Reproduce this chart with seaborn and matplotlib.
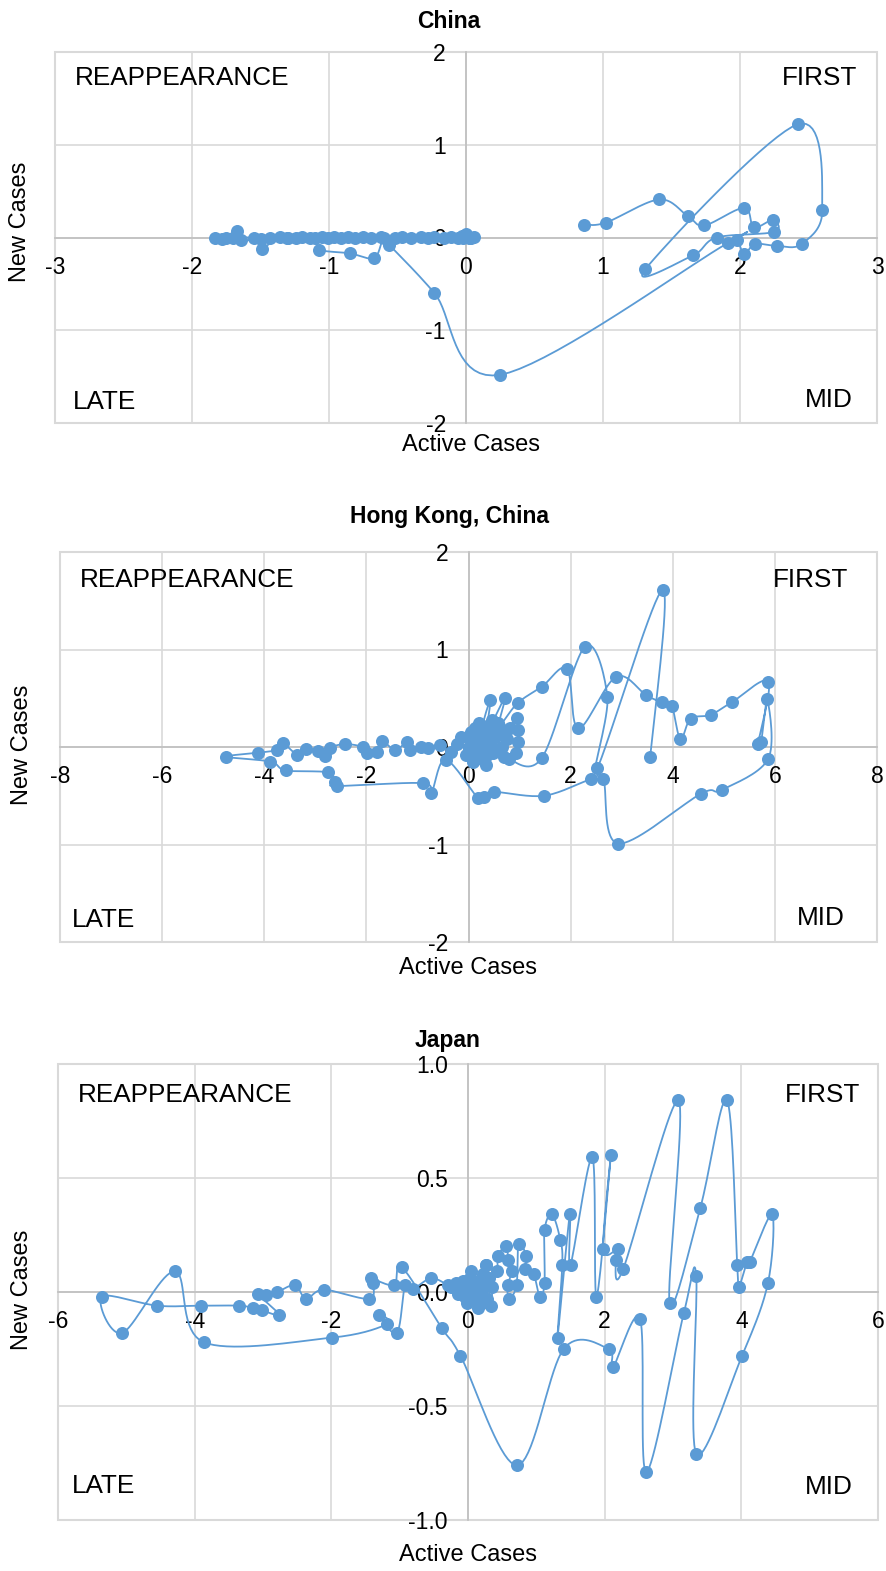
import numpy as np
import matplotlib
matplotlib.use("Agg")
import matplotlib.pyplot as plt
import seaborn as sns
from matplotlib.ticker import FormatStrFormatter
from matplotlib.patches import Rectangle

# ---------------- data (trajectory order) ----------------
china_pts = [
    (0.86, 0.14), (1.02, 0.16), (1.41, 0.41), (1.62, 0.23), (1.74, 0.13), (2.03, 0.32),
    (2.10, 0.11), (2.24, 0.19), (2.25, 0.06), (1.83, 0.00), (1.66, -0.19), (1.31, -0.34),
    (2.42, 1.22), (2.60, 0.30), (2.45, -0.07), (2.27, -0.09), (2.11, -0.07), (2.03, -0.18),
    (1.98, -0.03), (1.91, -0.06), (0.25, -1.48), (-0.23, -0.60), (-0.56, -0.08), (-0.62, 0.01),
    (-0.69, 0.00), (-0.75, 0.01), (-0.81, 0.00), (-0.86, 0.01), (-0.91, 0.00), (-0.96, 0.01),
    (-1.01, 0.00), (-1.05, 0.01), (-1.14, 0.00), (-1.20, 0.01), (-1.24, 0.00), (-1.31, 0.00),
    (-1.36, 0.01), (-1.49, -0.12), (-1.50, -0.02), (-1.64, -0.03), (-1.67, 0.07), (-1.75, 0.00),
    (-1.78, -0.02), (-1.83, -0.01), (-1.70, 0.00), (-1.55, 0.00), (-1.43, 0.00), (-1.30, 0.00),
    (-1.10, 0.00), (-1.07, -0.13), (-0.85, -0.17), (-0.67, -0.22), (-0.60, 0.00), (-0.52, 0.00),
    (-0.47, 0.01), (-0.40, 0.00), (-0.33, 0.01), (-0.28, 0.00), (-0.23, 0.01), (-0.16, 0.00),
    (-0.11, 0.01), (-0.06, 0.00), (-0.03, 0.02), (0.00, 0.04), (0.02, 0.00), (0.06, 0.01),
    (0.04, -0.01), (-0.02, 0.00), (0.01, 0.01),
]

hk_pts = [
    (0.00, 0.00), (0.05, 0.06), (0.10, -0.03), (0.02, 0.12), (0.15, 0.08), (0.20, 0.15),
    (0.12, 0.20), (0.25, 0.05), (0.30, -0.04), (0.22, -0.10), (0.35, 0.12), (0.28, 0.22),
    (0.43, 0.48), (0.38, 0.18), (0.71, 0.50), (0.60, 0.22), (0.96, 0.45), (1.44, 0.62),
    (1.93, 0.80), (2.15, 0.19), (2.89, 0.72), (3.48, 0.53), (3.78, 0.46), (3.98, 0.42),
    (4.15, 0.08), (4.35, 0.29), (4.74, 0.33), (5.16, 0.46), (5.87, 0.67), (5.67, 0.03),
    (5.73, 0.05), (5.85, 0.49), (5.87, -0.12), (4.96, -0.44), (4.55, -0.48), (2.93, -0.99),
    (2.64, -0.33), (2.40, -0.33), (1.48, -0.50), (0.49, -0.46), (0.30, -0.51), (0.18, -0.52),
    (-0.45, -0.13), (-0.73, -0.47), (-0.90, -0.37), (-2.58, -0.40), (-2.62, -0.36), (-2.76, -0.26),
    (-3.58, -0.24), (-3.88, -0.15), (-4.74, -0.10), (-4.13, -0.06), (-3.76, -0.03), (-3.64, 0.04),
    (-3.35, -0.08), (-3.19, -0.02), (-2.95, -0.04), (-2.81, -0.09), (-2.72, -0.01), (-2.42, 0.03),
    (-2.07, 0.00), (-1.99, -0.06), (-1.79, -0.05), (-1.69, 0.06), (-1.44, -0.03), (-1.20, 0.05),
    (-1.14, -0.03), (-0.94, 0.00), (-0.79, -0.01), (-0.55, 0.02), (-0.35, -0.05), (-0.22, 0.03),
    (-0.15, 0.10), (-0.05, -0.08), (0.05, 0.15), (0.08, -0.15), (0.14, 0.02), (0.18, -0.05),
    (0.24, 0.12), (0.27, -0.12), (0.32, 0.05), (0.36, -0.08), (0.40, 0.18), (0.44, 0.02),
    (0.48, -0.06), (0.52, 0.10), (0.56, -0.03), (0.62, 0.14), (0.66, 0.00), (0.70, -0.10),
    (0.58, 0.25), (0.46, 0.28), (0.34, -0.18), (0.20, 0.25), (0.75, 0.08), (0.82, 0.20),
    (0.95, 0.30), (0.97, 0.17), (0.96, 0.05), (0.93, -0.06), (0.79, -0.12), (1.44, -0.11),
    (2.28, 1.03), (2.72, 0.51), (2.52, -0.22), (3.80, 1.61), (3.56, -0.10),
]

japan_pts = [
    (-0.25, 0.02), (-0.18, 0.04), (-0.12, 0.01), (-0.08, 0.05), (-0.05, -0.02), (0.00, 0.02),
    (0.03, 0.06), (0.06, -0.01), (0.09, 0.03), (0.12, -0.04), (0.14, 0.05), (0.17, 0.01),
    (0.20, -0.05), (0.22, 0.08), (0.26, 0.12), (0.42, 0.09), (0.44, 0.16), (0.56, 0.20),
    (0.59, 0.14), (0.64, 0.09), (0.58, 0.03), (0.60, -0.03), (0.71, 0.03), (0.74, 0.21),
    (0.85, 0.16), (0.84, 0.10), (0.96, 0.08), (1.05, -0.02), (1.12, 0.04), (1.12, 0.27),
    (1.23, 0.34), (1.35, 0.23), (1.38, 0.12), (1.31, -0.20), (1.49, 0.34), (1.50, 0.12),
    (1.82, 0.59), (1.88, -0.02), (2.09, 0.60), (1.98, 0.19), (2.20, 0.19), (2.16, 0.14),
    (2.27, 0.10), (3.08, 0.84), (2.95, -0.05), (3.40, 0.37), (3.79, 0.84), (3.94, 0.12),
    (3.96, 0.02), (4.08, 0.13), (4.12, 0.13), (4.45, 0.34), (4.39, 0.04), (4.01, -0.28),
    (3.34, -0.71), (3.34, 0.07), (3.16, -0.09), (2.61, -0.79), (2.52, -0.12), (2.12, -0.33),
    (2.06, -0.25), (1.40, -0.25), (0.72, -0.76), (-0.11, -0.28), (-0.38, -0.16), (-0.97, 0.11),
    (-1.08, 0.03), (-1.42, 0.06), (-1.39, 0.04), (-1.45, -0.03), (-2.11, 0.01), (-2.37, -0.03),
    (-2.53, 0.03), (-2.79, 0.00), (-2.95, -0.015), (-3.07, -0.01), (-2.76, -0.10), (-3.02, -0.08),
    (-3.15, -0.07), (-3.35, -0.06), (-3.91, -0.06), (-4.55, -0.06), (-5.36, -0.02), (-5.06, -0.18),
    (-4.29, 0.09), (-3.87, -0.22), (-1.99, -0.20), (-1.18, -0.14), (-1.30, -0.10), (-1.04, -0.18),
    (-0.92, 0.03), (-0.80, 0.015), (-0.54, 0.06), (-0.30, 0.03), (-0.15, -0.01), (-0.02, -0.05),
    (0.05, 0.09), (0.10, 0.00), (0.15, -0.07), (0.24, 0.03), (0.28, -0.03), (0.30, 0.06),
    (0.33, -0.06), (0.35, 0.02), (0.27, 0.12),
]

titles = ["China", "Hong Kong, China", "Japan"]
china_xticks = [-3, -2, -1, 0, 1, 2, 3]
china_yticks = [-2, -1, 0, 1, 2]
hk_xticks = [-8, -6, -4, -2, 0, 2, 4, 6, 8]
hk_yticks = [-2, -1, 0, 1, 2]
japan_xticks = [-6, -4, -2, 0, 2, 4, 6]
japan_yticks = [-1.0, -0.5, 0.0, 0.5, 1.0]
quadrants = ["REAPPEARANCE", "FIRST", "LATE", "MID"]

# ---------------- style ----------------
W_PX, H_PX = 886, 1571
sns.set_style("white")
plt.rcParams["font.family"] = ["Liberation Sans", "DejaVu Sans"]
plt.rcParams["axes.unicode_minus"] = False
plt.rcParams["text.color"] = "black"
plt.rcParams["xtick.color"] = "black"
plt.rcParams["ytick.color"] = "black"

BLUE = "#5B9BD5"
GRID = "#D9D9D9"
AXIS = "#BFBFBF"

fig = plt.figure(figsize=(W_PX / 100, H_PX / 100), dpi=100)


def fx(px):
    return px / W_PX


def fy(py):
    return 1 - py / H_PX


def smooth(xs, ys, xr, yr, w, h, n=18):
    sx = w / (xr[1] - xr[0])
    sy = h / (yr[1] - yr[0])
    P = np.column_stack([np.asarray(xs) * sx, np.asarray(ys) * sy])
    out = []
    t = np.linspace(0, 1, n, endpoint=False)[:, None]
    for i in range(len(P) - 1):
        p0 = P[i - 1] if i > 0 else P[i]
        p1, p2 = P[i], P[i + 1]
        p3 = P[i + 2] if i + 2 < len(P) else P[i + 1]
        c1 = p1 + (p2 - p0) / 6.0
        c2 = p2 - (p3 - p1) / 6.0
        seg = (1 - t) ** 3 * p1 + 3 * (1 - t) ** 2 * t * c1 + 3 * (1 - t) * t ** 2 * c2 + t ** 3 * p2
        out.append(seg)
    out.append(P[-1:])
    A = np.vstack(out)
    return A[:, 0] / sx, A[:, 1] / sy


panels = [
    dict(pts=china_pts, xt=china_xticks, yt=china_yticks, box=(55, 52, 877, 423), fmt=None,
         title=(449, 21), xl=(471, 445), yl=(20, 222),
         q=[(75, 78), (857, 78), (73, 402), (853, 400)]),
    dict(pts=hk_pts, xt=hk_xticks, yt=hk_yticks, box=(60, 552, 877, 942), fmt=None,
         title=(450, 517), xl=(468, 968), yl=(22, 745),
         q=[(80, 580), (848, 580), (72, 920), (845, 918)]),
    dict(pts=japan_pts, xt=japan_xticks, yt=japan_yticks, box=(58, 1064, 878, 1520), fmt="%.1f",
         title=(448, 1040), xl=(468, 1555), yl=(22, 1290),
         q=[(78, 1095), (860, 1095), (72, 1486), (853, 1487)]),
]

for k, p in enumerate(panels):
    l, t, r, b = p["box"]
    ax = fig.add_axes([fx(l), fy(b), (r - l) / W_PX, (b - t) / H_PX])
    xr = (p["xt"][0], p["xt"][-1])
    yr = (p["yt"][0], p["yt"][-1])
    ax.set_xlim(*xr)
    ax.set_ylim(*yr)
    ax.set_xticks(p["xt"])
    ax.set_yticks(p["yt"])
    if p["fmt"]:
        ax.yaxis.set_major_formatter(FormatStrFormatter(p["fmt"]))
    ax.grid(False)
    for v in p["xt"]:
        ax.axvline(v, color=GRID, lw=1.2, zorder=0)
    for v in p["yt"]:
        ax.axhline(v, color=GRID, lw=1.2, zorder=0)
    ax.add_patch(Rectangle((0, 0), 1, 1, transform=ax.transAxes, fill=False,
                           edgecolor=GRID, lw=1.5, clip_on=False, zorder=0.2))
    for s in ["top", "right"]:
        ax.spines[s].set_visible(False)
    ax.spines["left"].set_position(("data", 0))
    ax.spines["bottom"].set_position(("data", 0))
    for s in ["left", "bottom"]:
        ax.spines[s].set_color(AXIS)
        ax.spines[s].set_linewidth(1.2)
        ax.spines[s].set_zorder(0.5)
    ax.tick_params(axis="both", length=0, labelsize=16.5, colors="black")
    ax.tick_params(axis="x", pad=13)
    ax.tick_params(axis="y", pad=14.5)

    xs = [a for a, _ in p["pts"]]
    ys = [c for _, c in p["pts"]]
    cx, cy = smooth(xs, ys, xr, yr, r - l, b - t)
    sns.lineplot(x=cx, y=cy, sort=False, estimator=None, color=BLUE, lw=1.3, ax=ax, zorder=1.8)
    sns.scatterplot(x=xs, y=ys, s=88, color=BLUE, linewidth=0, ax=ax, zorder=2)
    ax.set_xlabel("")
    ax.set_ylabel("")

    fig.text(fx(p["title"][0]), fy(p["title"][1]), titles[k], ha="center", va="center",
             fontsize=16.5, fontweight="bold", color="black")
    fig.text(fx(p["xl"][0]), fy(p["xl"][1]), "Active Cases", ha="center", va="center",
             fontsize=17, color="black")
    fig.text(fx(p["yl"][0]), fy(p["yl"][1]), "New Cases", ha="center", va="center",
             rotation=90, fontsize=17, color="black")
    has = ["left", "right", "left", "right"]
    for (qx, qy), txt, ha in zip(p["q"], quadrants, has):
        fig.text(fx(qx), fy(qy), txt, ha=ha, va="center", fontsize=18.8, color="black")

fig.savefig("out.png", dpi=100)
